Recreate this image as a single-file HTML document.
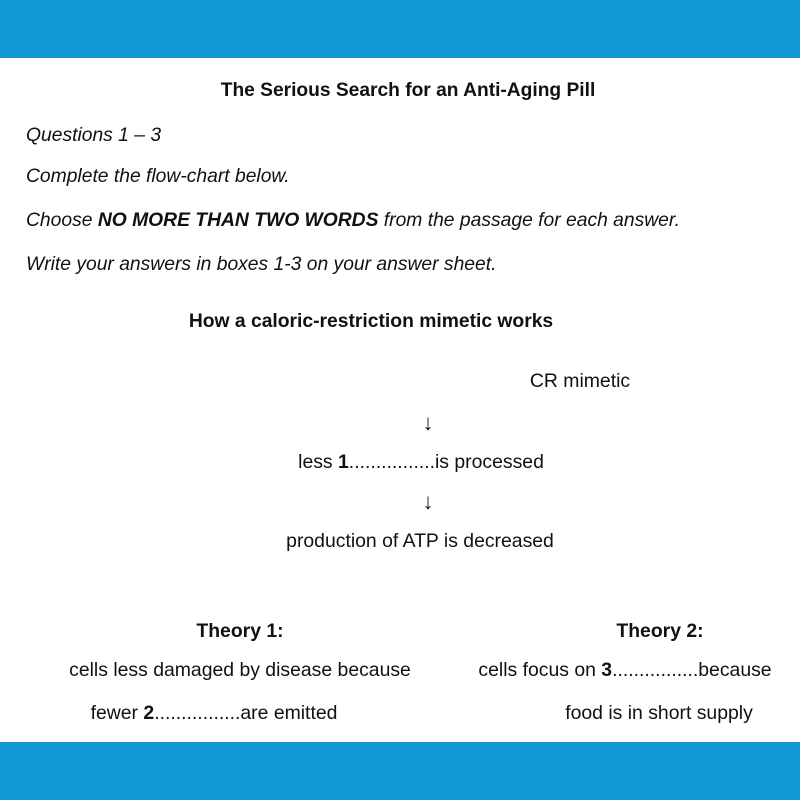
<!DOCTYPE html>
<html><head><style>
body{margin:0;width:800px;height:800px;background:#fff;position:relative;overflow:hidden;font-family:"Liberation Sans",Arial,sans-serif;color:#111}
.band{position:absolute;left:0;width:800px;background:#1098d5}
.t{position:absolute;line-height:20px;font-size:19.4px;white-space:nowrap}
.c{transform:translateX(-50%)}
i{font-style:italic;font-size:19.3px}
</style></head><body>
<div class="band" style="top:0;height:58px"></div>
<div class="band" style="top:742px;height:58px"></div>
<div class="t c" style="left:408px;top:81px;font-size:19.2px;font-weight:bold">The Serious Search for an Anti-Aging Pill</div>
<div class="t" style="left:26px;top:125px"><i>Questions 1 – 3</i></div>
<div class="t" style="left:26px;top:166px"><i>Complete the flow-chart below.</i></div>
<div class="t" style="left:26px;top:210px"><i>Choose <b>NO MORE THAN TWO WORDS</b> from the passage for each answer.</i></div>
<div class="t" style="left:26px;top:254px"><i>Write your answers in boxes 1-3 on your answer sheet.</i></div>
<div class="t c" style="left:371px;top:312px;font-size:19.3px;font-weight:bold">How a caloric-restriction mimetic works</div>
<div class="t c" style="left:580px;top:371px">CR mimetic</div>
<div class="t c" style="left:428px;top:413px;font-size:22px">↓</div>
<div class="t c" style="left:421px;top:452px">less <b>1</b>................is processed</div>
<div class="t c" style="left:428px;top:492px;font-size:22px">↓</div>
<div class="t c" style="left:420px;top:531px">production of ATP is decreased</div>
<div class="t c" style="left:240px;top:621px;font-weight:bold">Theory 1:</div>
<div class="t c" style="left:660px;top:621px;font-weight:bold">Theory 2:</div>
<div class="t c" style="left:240px;top:660px">cells less damaged by disease because</div>
<div class="t c" style="left:625px;top:660px">cells focus on <b>3</b>................because</div>
<div class="t c" style="left:214px;top:703px">fewer <b>2</b>................are emitted</div>
<div class="t c" style="left:659px;top:703px">food is in short supply</div>
</body></html>
